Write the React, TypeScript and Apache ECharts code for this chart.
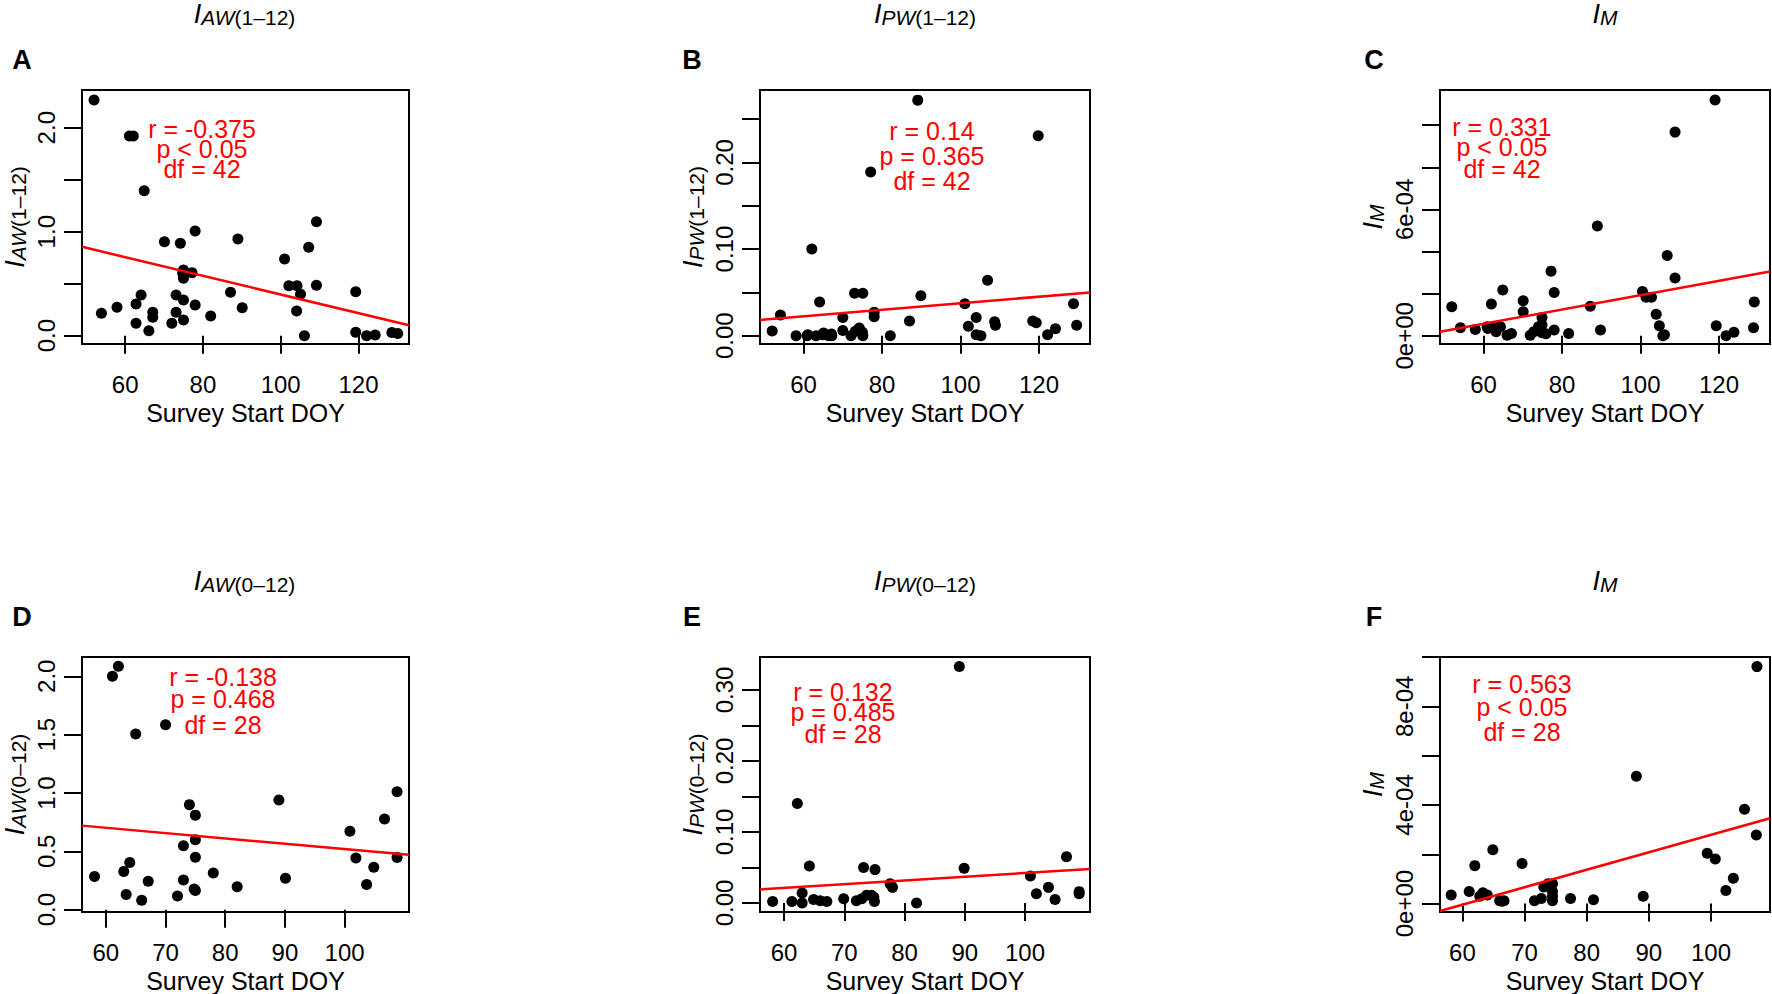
import React, { useEffect, useRef } from "react";
import * as echarts from "echarts";

const FONT = '"Liberation Sans", Arial, Helvetica, sans-serif';

// ---- tick values ----
const xTicksTop = [60, 80, 100, 120];
const xTicksBottom = [60, 70, 80, 90, 100];
const yTicksA = [0, 0.5, 1, 1.5, 2];
const yLabelsA = [0, 1, 2];
const yTicksB = [0, 0.05, 0.1, 0.15, 0.2, 0.25];
const yLabelsB = [0, 0.1, 0.2];
const yTicksC = [0, 2e-4, 4e-4, 6e-4, 8e-4, 1e-3];
const yLabelsC = [0, 6e-4];
const yTicksD = [0, 0.5, 1, 1.5, 2];
const yLabelsD = [0, 0.5, 1, 1.5, 2];
const yTicksE = [0, 0.05, 0.1, 0.15, 0.2, 0.25, 0.3];
const yLabelsE = [0, 0.1, 0.2, 0.3];
const yTicksF = [0, 2e-4, 4e-4, 6e-4, 8e-4, 1e-3];
const yLabelsF = [0, 4e-4, 8e-4];

// ---- data: [Survey Start DOY, index value] ----
const pointsA = [
  [52.0, 2.266], [61.1, 1.92], [62.1, 1.92], [64.9, 1.394],
  [53.9, 0.215], [57.9, 0.273], [62.8, 0.305], [64.1, 0.391], [62.8, 0.119], [66.1, 0.048],
  [67.1, 0.225], [67.1, 0.177], [70.1, 0.904], [72.0, 0.119], [73.1, 0.225], [73.1, 0.391],
  [74.2, 0.888], [75.0, 0.632], [75.0, 0.552], [77.2, 0.606], [75.0, 0.343], [75.0, 0.151],
  [78.0, 1.007], [78.0, 0.295], [82.0, 0.189], [87.1, 0.417], [89.0, 0.93], [90.1, 0.269],
  [101.0, 0.737], [102.1, 0.481], [104.2, 0.481], [105.1, 0.398], [104.1, 0.237], [106.1, 0.0],
  [107.2, 0.85], [109.2, 1.096], [109.2, 0.485], [119.3, 0.423], [119.3, 0.033], [122.1, 0.0],
  [124.3, 0.007], [128.6, 0.03], [130.1, 0.02], [74.8, 0.6],
];
const pointsB = [
  [52.0, 0.0054], [54.1, 0.024], [58.1, 0], [60.9, 0], [62.1, 0.1], [63.2, 0.0], [64.1, 0.039],
  [65.1, 0.003], [66.4, 0], [67.2, 0], [70.0, 0.021], [70.0, 0.006], [72.1, 0], [73.0, 0.049],
  [73.2, 0.005], [74.2, 0.009], [75.1, 0.049], [75.1, 0.0], [78.0, 0.027], [78.0, 0.022],
  [82.1, 0], [87.0, 0.017], [89.9, 0.046], [101.1, 0.037], [102.0, 0.011], [104.0, 0.021],
  [104.0, 0.001], [89.1, 0.272], [77.1, 0.189], [119.8, 0.231], [106.9, 0.064], [105.2, 0.0],
  [108.7, 0.016], [108.9, 0.012], [118.4, 0.017], [122.2, 0.001], [124.2, 0.008], [128.8, 0.037],
  [129.6, 0.012], [61.1, 0.001], [67.1, 0.002], [75.0, 0.004], [64.9, 0.001], [119.3, 0.015],
];
const pointsC = [
  [51.9, 1.38e-4], [54.1, 0.38e-4], [57.9, 0.3e-4], [62.0, 1.51e-4], [60.9, 0.43e-4],
  [63.0, 0.43e-4], [63.2, 0.19e-4], [64.3, 0.43e-4], [64.9, 2.17e-4], [66.0, 0.03e-4],
  [67.1, 0.11e-4], [70.1, 1.66e-4], [70.1, 1.14e-4], [71.9, 0.03e-4], [72.8, 0.19e-4],
  [74.9, 0.87e-4], [74.9, 0.51e-4], [74.9, 0.14e-4], [74.0, 0.43e-4], [77.2, 3.07e-4],
  [78.0, 2.06e-4], [78.0, 0.27e-4], [81.7, 0.11e-4], [89.0, 5.21e-4], [87.2, 1.4e-4],
  [89.8, 0.27e-4], [100.5, 2.1e-4], [101.4, 1.83e-4], [102.8, 1.83e-4], [104.0, 1.02e-4],
  [104.8, 0.48e-4], [105.7, 0.0], [106.8, 3.81e-4], [108.8, 2.74e-4], [108.8, 9.67e-4],
  [119.0, 11.2e-4], [119.3, 0.48e-4], [121.8, 0.0], [123.8, 0.17e-4], [129.0, 1.61e-4],
  [128.8, 0.38e-4], [61.1, 0.35e-4], [75.9, 0.1e-4], [106.1, 0.05e-4],
];
const pointsD = [
  [61.1, 2.0], [62.1, 2.085], [65.0, 1.505], [70.0, 1.585], [74.0, 0.9], [75.0, 0.81],
  [89.0, 0.94], [100.9, 0.671], [101.9, 0.443], [104.9, 0.363], [73.0, 0.548], [75.0, 0.6],
  [75.0, 0.45], [64.0, 0.405], [63.0, 0.328], [58.1, 0.285], [78.0, 0.314], [90.1, 0.27],
  [63.4, 0.13], [66.0, 0.08], [67.1, 0.244], [72.0, 0.118], [73.0, 0.255], [74.8, 0.177],
  [82.0, 0.196], [103.7, 0.215], [106.7, 0.777], [108.8, 1.01], [108.8, 0.448], [75.0, 0.165],
];
const pointsE = [
  [89.1, 0.333], [62.2, 0.14], [64.2, 0.052], [73.2, 0.05], [75.1, 0.047], [89.9, 0.049],
  [58.1, 0.002], [61.3, 0.002], [63.0, 0.014], [63.0, 0.0], [64.9, 0.005], [66.0, 0.003],
  [67.1, 0.002], [69.9, 0.006], [72.0, 0.003], [72.9, 0.006], [73.7, 0.011], [74.5, 0.011],
  [75.0, 0.002], [77.6, 0.027], [82.0, 0.0], [100.9, 0.038], [101.9, 0.013], [103.9, 0.022],
  [105.0, 0.005], [106.9, 0.065], [109.0, 0.016], [109.0, 0.013], [74.9, 0.008], [78.0, 0.022],
];
const pointsF = [
  [58.2, 0.35e-4], [61.1, 0.49e-4], [62.0, 1.54e-4], [63.3, 0.44e-4], [64.0, 0.35e-4],
  [64.9, 2.18e-4], [66.0, 0.12e-4], [66.7, 0.12e-4], [69.6, 1.63e-4], [71.6, 0.12e-4],
  [72.7, 0.21e-4], [73.1, 0.67e-4], [74.5, 0.81e-4], [74.5, 0.49e-4], [74.5, 0.12e-4],
  [73.8, 0.81e-4], [77.4, 0.21e-4], [81.1, 0.16e-4], [88.0, 5.16e-4], [89.1, 0.3e-4],
  [99.4, 2.04e-4], [100.7, 1.81e-4], [102.4, 0.53e-4], [103.6, 1.03e-4], [105.4, 3.83e-4],
  [107.4, 9.61e-4], [107.3, 2.78e-4], [62.8, 0.3e-4], [66.4, 0.1e-4], [74.5, 0.3e-4],
];

// ---- regression fits: [intercept, slope] ----
const fitA = [1.293, -0.00897];
const fitB = [-0.00046, 0.000379];
const fitC = [-1.479e-4, 0.0341e-4];
const fitD = [0.976, -0.00457];
const fitE = [-0.0105, 0.000527];
const fitF = [-4.293e-4, 0.0708e-4];

// ---- statistics text ----
const statsA = ["r = -0.375", "p < 0.05", "df = 42"];
const statsB = ["r = 0.14", "p = 0.365", "df = 42"];
const statsC = ["r = 0.331", "p < 0.05", "df = 42"];
const statsD = ["r = -0.138", "p = 0.468", "df = 28"];
const statsE = ["r = 0.132", "p = 0.485", "df = 28"];
const statsF = ["r = 0.563", "p < 0.05", "df = 28"];

const fixed = (n: number) => (v: number) => Number(v).toFixed(n);
const sci = (v: number) => {
  const s = Number(v).toExponential(0);
  return s.replace(/e([+-])(\d)$/, "e$10$2");
};

const panels = [
  { letter: "A", sub: "AW", paren: "(1–12)", grid: { left: 80, top: 90, width: 329, height: 254 },
    x: [48.9, 133.0], y: [-0.08, 2.3625], xTicks: xTicksTop, yTicks: yTicksA, yLabels: yLabelsA,
    fmt: fixed(1), pts: pointsA, fit: fitA, stats: statsA, sx: 202, sy: [129, 149, 169] },
  { letter: "B", sub: "PW", paren: "(1–12)", grid: { left: 760, top: 90, width: 330, height: 254 },
    x: [48.9, 133.0], y: [-0.0096, 0.2837], xTicks: xTicksTop, yTicks: yTicksB, yLabels: yLabelsB,
    fmt: fixed(2), pts: pointsB, fit: fitB, stats: statsB, sx: 932, sy: [131, 156, 181] },
  { letter: "C", sub: "M", paren: "", grid: { left: 1440, top: 90, width: 330, height: 254 },
    x: [48.9, 133.0], y: [-0.39e-4, 11.67e-4], xTicks: xTicksTop, yTicks: yTicksC, yLabels: yLabelsC,
    fmt: sci, pts: pointsC, fit: fitC, stats: statsC, sx: 1502, sy: [127, 147, 169] },
  { letter: "D", sub: "AW", paren: "(0–12)", grid: { left: 80, top: 657, width: 329, height: 255 },
    x: [56.0, 110.8], y: [-0.02, 2.165], xTicks: xTicksBottom, yTicks: yTicksD, yLabels: yLabelsD,
    fmt: fixed(1), pts: pointsD, fit: fitD, stats: statsD, sx: 223, sy: [677, 699, 725] },
  { letter: "E", sub: "PW", paren: "(0–12)", grid: { left: 760, top: 657, width: 330, height: 255 },
    x: [56.0, 110.8], y: [-0.0127, 0.3465], xTicks: xTicksBottom, yTicks: yTicksE, yLabels: yLabelsE,
    fmt: fixed(2), pts: pointsE, fit: fitE, stats: statsE, sx: 843, sy: [692, 712, 734] },
  { letter: "F", sub: "M", paren: "", grid: { left: 1440, top: 657, width: 330, height: 255 },
    x: [56.4, 109.5], y: [-0.34e-4, 10.0e-4], xTicks: xTicksBottom, yTicks: yTicksF, yLabels: yLabelsF,
    fmt: sci, pts: pointsF, fit: fitF, stats: statsF, sx: 1522, sy: [684, 707, 732] },
];

const rich = {
  i: { fontFamily: FONT, fontSize: 27, fontStyle: "italic", lineHeight: 28, verticalAlign: "top", color: "#000" },
  s: { fontFamily: FONT, fontSize: 21, fontStyle: "italic", lineHeight: 16, verticalAlign: "bottom", color: "#000" },
  n: { fontFamily: FONT, fontSize: 21, lineHeight: 16, verticalAlign: "bottom", color: "#000" },
};
const richName = (p: any) => `{i|I}{s|${p.sub}}` + (p.paren ? `{n|${p.paren}}` : "");

export default function App() {
  const ref = useRef<HTMLDivElement>(null);
  useEffect(() => {
    document.body.style.margin = "0";
    if (!ref.current) return;
    const chart = echarts.init(ref.current, undefined, { renderer: "svg" });

    const graphic: any[] = [];
    panels.forEach((p) => {
      const row0 = p.grid.top < 300;
      const cx = p.grid.left + p.grid.width / 2;
      graphic.push({
        type: "text", silent: true,
        style: { text: p.letter, x: p.letter === "A" || p.letter === "D" ? 22 : p.grid.left - (p.letter === "B" || p.letter === "E" ? 68 : 66),
          y: row0 ? 60 : 617, fontFamily: FONT, fontSize: 27, fontWeight: "bold", fill: "#000",
          align: "center", verticalAlign: "middle", textAlign: "center", textVerticalAlign: "middle" },
      });
      graphic.push({
        type: "text", silent: true,
        style: { text: richName(p), rich, x: cx, y: row0 ? 14 : 581, fill: "#000",
          align: "center", verticalAlign: "middle", textAlign: "center", textVerticalAlign: "middle" },
      });
      p.stats.forEach((s: string, k: number) => {
        graphic.push({
          type: "text", silent: true,
          style: { text: s, x: p.sx, y: p.sy[k], fontFamily: FONT, fontSize: 25, fill: "#ff0000",
            align: "center", verticalAlign: "middle", textAlign: "center", textVerticalAlign: "middle" },
        });
      });
    });

    const option: any = {
      animation: false,
      tooltip: { show: false },
      grid: panels.map((p) => ({ ...p.grid, show: true, borderColor: "#000", borderWidth: 2,
        backgroundColor: "rgba(0,0,0,0)", containLabel: false })),
      xAxis: panels.map((p, i) => ({
        type: "value", gridIndex: i, min: p.x[0], max: p.x[1],
        axisLine: { show: false }, splitLine: { show: false },
        axisTick: { show: true, length: 18, lineStyle: { color: "#000", width: 2 }, customValues: p.xTicks },
        axisLabel: { show: true, customValues: p.xTicks, margin: 28, fontSize: 24, color: "#000", fontFamily: FONT,
          formatter: (v: number) => String(Math.round(v)) },
        name: "Survey Start DOY", nameLocation: "middle", nameGap: 56,
        nameTextStyle: { fontSize: 25, color: "#000", fontFamily: FONT },
      })),
      yAxis: panels.map((p, i) => ({
        type: "value", gridIndex: i, min: p.y[0], max: p.y[1],
        axisLine: { show: false }, splitLine: { show: false },
        axisTick: { show: true, length: 18, lineStyle: { color: "#000", width: 2 }, customValues: p.yTicks },
        axisLabel: { show: true, customValues: p.yLabels, rotate: 90, margin: 24, fontSize: 24, color: "#000",
          fontFamily: FONT, formatter: p.fmt },
        name: richName(p), nameLocation: "middle", nameRotate: 90, nameGap: 53,
        nameTextStyle: { rich, color: "#000" },
      })),
      series: [
        ...panels.map((p, i) => ({
          type: "scatter", xAxisIndex: i, yAxisIndex: i, data: p.pts, symbol: "circle", symbolSize: 11,
          itemStyle: { color: "#000", opacity: 1 }, silent: true,
        })),
        ...panels.map((p, i) => ({
          type: "line", xAxisIndex: i, yAxisIndex: i, showSymbol: false, silent: true, clip: true,
          data: [[p.x[0], p.fit[0] + p.fit[1] * p.x[0]], [p.x[1], p.fit[0] + p.fit[1] * p.x[1]]],
          lineStyle: { color: "#ff0000", width: 2.5 }, z: 5,
        })),
      ],
      graphic,
    };
    chart.setOption(option);
    return () => chart.dispose();
  }, []);
  return <div ref={ref} style={{ width: 1772, height: 994 }} />;
}
